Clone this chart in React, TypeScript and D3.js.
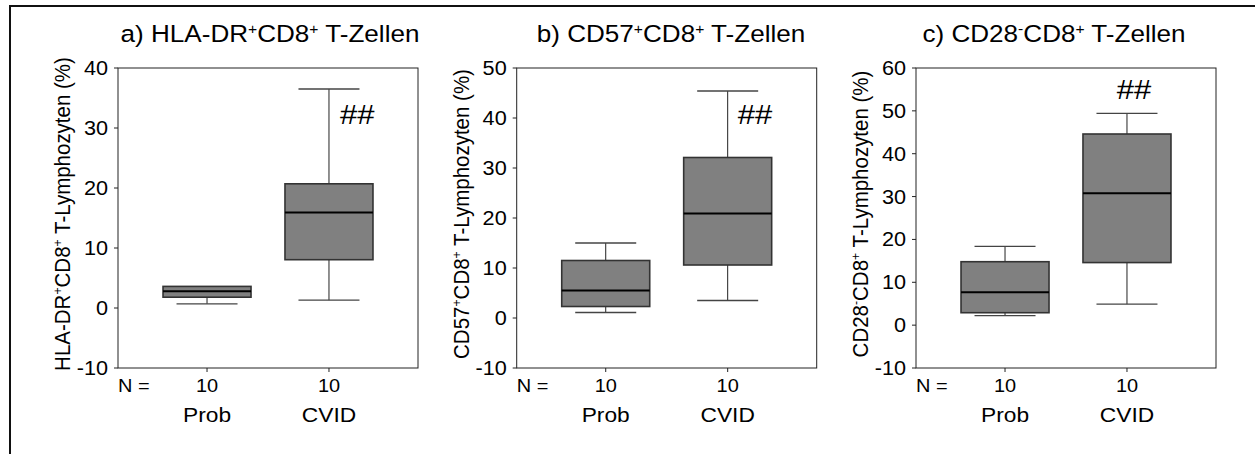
import React from "react";
import * as d3 from "d3";

// ---- data ----
const categories = ["Prob", "CVID"];
const nCounts = [10, 10];
const panelLetters = ["a)", "b)", "c)"];
// marker pieces: [name, sign]
const markerA = [["HLA-DR", "+"], ["CD8", "+"]];
const markerB = [["CD57", "+"], ["CD8", "+"]];
const markerC = [["CD28", "-"], ["CD8", "+"]];
const yDomainA = [-10, 40];
const yDomainB = [-10, 50];
const yDomainC = [-10, 60];
const yTicksA = [-10, 0, 10, 20, 30, 40];
const yTicksB = [-10, 0, 10, 20, 30, 40, 50];
const yTicksC = [-10, 0, 10, 20, 30, 40, 50, 60];
// [lower whisker, Q1, median, Q3, upper whisker]
const boxA_Prob = [0.7, 1.8, 2.8, 3.6, 3.6];
const boxA_CVID = [1.3, 8.05, 15.9, 20.7, 36.5];
const boxB_Prob = [1.1, 2.3, 5.5, 11.5, 15.0];
const boxB_CVID = [3.5, 10.6, 20.9, 32.1, 45.4];
const boxC_Prob = [2.2, 2.9, 7.7, 14.8, 18.4];
const boxC_CVID = [4.9, 14.6, 30.8, 44.6, 49.4];
const sigLabel = "##";
const sigValueA = 30.7;
const sigValueB = 38.8;
const sigValueC = 52.8;

// ---- layout ----
const W = 1255, H = 454;
const FONT = "'Liberation Sans', Arial, Helvetica, sans-serif";
const SX = 1.11; // horizontal stretch of the original typography
const plotTop = 68, plotBottom = 368, plotW = 300;

const panels = [
  { letter: panelLetters[0], marker: markerA, dom: yDomainA, ticks: yTicksA, boxes: [boxA_Prob, boxA_CVID], sig: sigValueA, left: 118, titleX: 270, labelX: 70, sigDx: 11, sigAnchor: "start" },
  { letter: panelLetters[1], marker: markerB, dom: yDomainB, ticks: yTicksB, boxes: [boxB_Prob, boxB_CVID], sig: sigValueB, left: 516.7, titleX: 671, labelX: 469, sigDx: 10, sigAnchor: "start" },
  { letter: panelLetters[2], marker: markerC, dom: yDomainC, ticks: yTicksC, boxes: [boxC_Prob, boxC_CVID], sig: sigValueC, left: 916, titleX: 1054, labelX: 868, sigDx: 7, sigAnchor: "middle" },
];

const boxW = 88, capW = 61;

function markerSpans(parts: string[][], size: number, prefix: string, suffix: string) {
  const up = size * 0.36;
  const out: any[] = [];
  out.push(<tspan key="pre">{prefix}</tspan>);
  parts.forEach((p, i) => {
    out.push(<tspan key={"n" + i} dy={i === 0 ? 0 : up}>{p[0]}</tspan>);
    out.push(<tspan key={"s" + i} dy={-up} fontSize={size * 0.6}>{p[1] === "-" ? "-" : "+"}</tspan>);
  });
  out.push(<tspan key="suf" dy={up}>{suffix}</tspan>);
  return out;
}

function SText({ x, y, size, anchor = "start", rotate = 0, children }: any) {
  return (
    <g transform={`translate(${x},${y}) scale(${SX},1)${rotate ? ` rotate(${rotate})` : ""}`}>
      <text x={0} y={0} textAnchor={anchor} fontSize={size} fontFamily={FONT} fill="#000">{children}</text>
    </g>
  );
}

function Panel({ cfg }: { cfg: any }) {
  const y = d3.scaleLinear().domain(cfg.dom).range([plotBottom, plotTop]);
  const x = d3.scalePoint<string>().domain(categories).range([cfg.left, cfg.left + plotW]).padding(0.73);
  return (
    <g>
      <SText x={cfg.titleX} y={42} size={23.5} anchor="middle">
        {markerSpans(cfg.marker, 23.5, cfg.letter + " ", " T-Zellen")}
      </SText>
      {/* frame */}
      <rect x={cfg.left} y={plotTop} width={plotW} height={plotBottom - plotTop} fill="none" stroke="#222" strokeWidth={1} />
      {/* y ticks */}
      {cfg.ticks.map((t: number) => (
        <g key={t}>
          <line x1={cfg.left - 4} x2={cfg.left} y1={y(t)} y2={y(t)} stroke="#222" strokeWidth={1} />
          <SText x={cfg.left - 10} y={y(t) + 7} size={19.5} anchor="end">{t}</SText>
        </g>
      ))}
      {/* y label */}
      <SText x={cfg.labelX} y={(plotTop + plotBottom) / 2 - 4} size={20.5} anchor="middle" rotate={-90}>
        {markerSpans(cfg.marker, 20.5, "", " T-Lymphozyten (%)")}
      </SText>
      {/* x ticks */}
      {categories.map((c) => (
        <line key={c} x1={x(c)} x2={x(c)} y1={plotBottom} y2={plotBottom + 4} stroke="#222" strokeWidth={1} />
      ))}
      <SText x={cfg.left} y={392} size={18}>N =</SText>
      {categories.map((c, i) => (
        <g key={c}>
          <SText x={x(c)} y={392} size={18} anchor="middle">{nCounts[i]}</SText>
          <SText x={x(c)} y={422} size={20.5} anchor="middle">{c}</SText>
        </g>
      ))}
      {/* boxes */}
      {categories.map((c, i) => {
        const [lo, q1, med, q3, hi] = cfg.boxes[i];
        const cx = x(c)!;
        return (
          <g key={c}>
            <line x1={cx} x2={cx} y1={y(q3)} y2={y(hi)} stroke="#222" strokeWidth={1} />
            <line x1={cx} x2={cx} y1={y(q1)} y2={y(lo)} stroke="#222" strokeWidth={1} />
            {hi > q3 && <line x1={cx - capW / 2} x2={cx + capW / 2} y1={y(hi)} y2={y(hi)} stroke="#444" strokeWidth={1.3} />}
            <line x1={cx - capW / 2} x2={cx + capW / 2} y1={y(lo)} y2={y(lo)} stroke="#444" strokeWidth={1.3} />
            <rect x={cx - boxW / 2} y={y(q3)} width={boxW} height={y(q1) - y(q3)} fill="#808080" stroke="#333" strokeWidth={1.6} />
            <line x1={cx - boxW / 2} x2={cx + boxW / 2} y1={y(med)} y2={y(med)} stroke="#000" strokeWidth={2} />
          </g>
        );
      })}
      <SText x={x(categories[1])! + cfg.sigDx} y={y(cfg.sig)} size={28} anchor={cfg.sigAnchor}>{sigLabel}</SText>
    </g>
  );
}

export default function App() {
  return (
    <svg width={W} height={H} style={{ position: "absolute", left: 0, top: 0, background: "#fff" }}>
      <rect x={0} y={0} width={W} height={H} fill="#fff" />
      <path d={`M10,${H} L10,6 L${W},6`} fill="none" stroke="#111" strokeWidth={2} />
      {panels.map((p, i) => (
        <Panel key={i} cfg={p} />
      ))}
    </svg>
  );
}
